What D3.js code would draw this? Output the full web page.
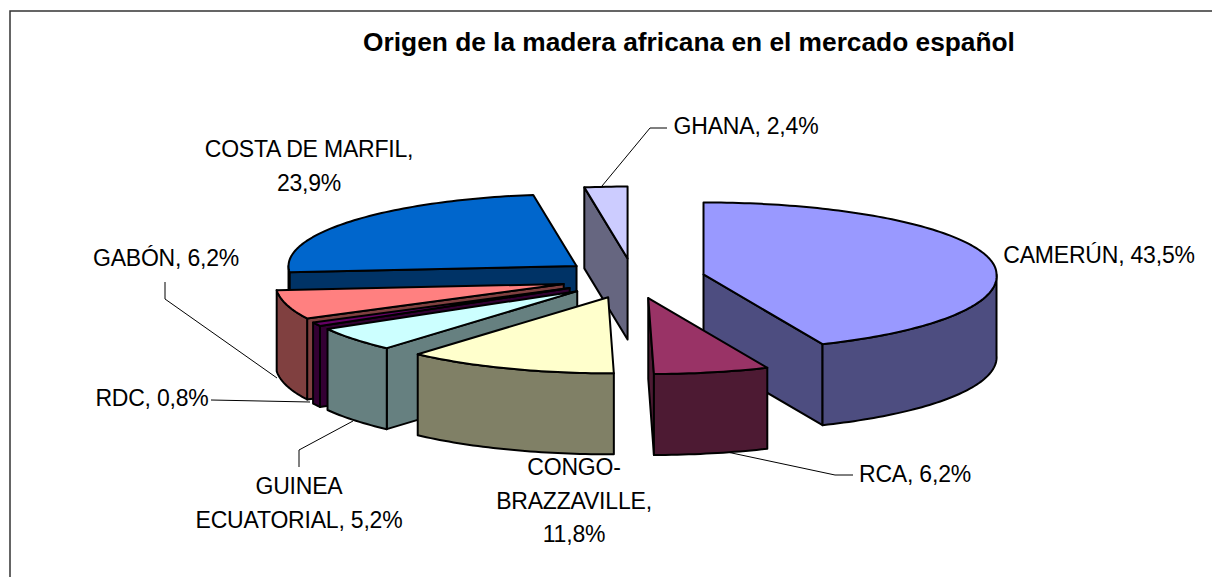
<!DOCTYPE html>
<html>
<head>
<meta charset="utf-8">
<script src="https://cdnjs.cloudflare.com/ajax/libs/d3/7.8.5/d3.min.js"></script>
<style>
  html, body { margin: 0; padding: 0; background: #fff; }
  svg { display: block; }
  text { font-family: "Liberation Sans", Arial, sans-serif; fill: #000; }
</style>
</head>
<body>
<svg id="chart" width="1212" height="577"></svg>
<script>
// --- data ---
const titleText = "Origen de la madera africana en el mercado español";
const categories = ["CAMERÚN", "RCA", "CONGO-BRAZZAVILLE", "GUINEA ECUATORIAL", "RDC", "GABÓN", "COSTA DE MARFIL", "GHANA"];
const values = [43.5, 6.2, 11.8, 5.2, 0.8, 6.2, 23.9, 2.4];
const topColors = ["#9999ff", "#993366", "#ffffcc", "#ccffff", "#660066", "#ff8080", "#0066cc", "#ccccff"];
const sideColors = ["#4d4d80", "#4d1a33", "#808066", "#668080", "#330033", "#804040", "#003366", "#666680"];
const labelLines = [
  ["CAMERÚN, 43,5%"],
  ["RCA, 6,2%"],
  ["CONGO-", "BRAZZAVILLE,", "11,8%"],
  ["GUINEA", "ECUATORIAL, 5,2%"],
  ["RDC, 0,8%"],
  ["GABÓN, 6,2%"],
  ["COSTA DE MARFIL,", "23,9%"],
  ["GHANA, 2,4%"]
];

// label placement, same order as categories: first baseline
const labelX = [1099, 915, 574, 299, 152, 166, 309, 746];
const labelY = [263, 482, 475, 494, 406, 266, 157, 134];
// leader lines (label end, elbow, slice end); camerun, congo and costa have none
const leaders = [
  null,
  [[853, 475], [835, 475], [727, 452]],
  null,
  [[299, 467], [299, 450], [353, 421]],
  [[211, 400], [310, 402]],
  [[165, 282], [165, 299], [277, 378]],
  null,
  [[667, 128], [650, 128], [602, 186]]
];

// --- pie geometry ---
const cx = 633, cy = 278.5;
const rxRight = 293, rxLeft = 288, ryBack = 72, ryFront = 76;
const frontGain = 0.025; // front of the right half is drawn a little wider
const explodeX = 72, explodeY = 20;
const depth = 81;

const pie = d3.pie().sort(null).value(d => d);
const arcs = pie(values).map((a, i) => ({ ...a, i }));

// ellipse point at angle t, clockwise from 12 o'clock
function rim(t) {
  const c = Math.cos(t), s = Math.sin(t);
  const rx = s > 0 ? rxRight * (1 + frontGain * Math.max(0, -c)) : rxLeft;
  return [rx * s, -c * (c > 0 ? ryBack : ryFront)];
}

function apexOf(a) {
  const mid = (a.startAngle + a.endAngle) / 2;
  return [cx + explodeX * Math.sin(mid), cy - explodeY * Math.cos(mid)];
}

const lineGen = d3.line();

function rimPoints(a, t0, t1) {
  const apex = apexOf(a);
  const steps = Math.max(2, Math.ceil(Math.abs(t1 - t0) / 0.02));
  return d3.range(steps + 1).map(k => {
    const p = rim(t0 + (t1 - t0) * k / steps);
    return [apex[0] + p[0], apex[1] + p[1]];
  });
}

function down(pts) {
  return pts.map(p => [p[0], p[1] + depth]);
}

function cutFace(a, t) {
  const apex = apexOf(a);
  const p = rim(t);
  const outer = [apex[0] + p[0], apex[1] + p[1]];
  return lineGen([apex, outer, [outer[0], outer[1] + depth], [apex[0], apex[1] + depth]]) + "Z";
}

function wallFace(a) {
  const t0 = Math.max(a.startAngle, Math.PI / 2);
  const t1 = Math.min(a.endAngle, Math.PI * 1.5);
  if (t1 <= t0) return null;
  const pts = rimPoints(a, t0, t1);
  return lineGen(pts.concat(down(pts).reverse())) + "Z";
}

function topFace(a) {
  const apex = apexOf(a);
  return lineGen([apex].concat(rimPoints(a, a.startAngle, a.endAngle))) + "Z";
}

const svg = d3.select("#chart");

// frame, only top and left are drawn in the picture
svg.append("path")
  .attr("d", "M10,577V11H1212")
  .attr("fill", "none")
  .attr("stroke", "#333")
  .attr("stroke-width", 1.5);

svg.append("text")
  .attr("x", 689)
  .attr("y", 51)
  .attr("text-anchor", "middle")
  .attr("font-size", 26.3)
  .attr("font-weight", "bold")
  .text(titleText);

// leaders go under the slices
svg.append("g")
  .selectAll("path")
  .data(leaders.filter(d => d))
  .enter()
  .append("path")
  .attr("d", d => lineGen(d))
  .attr("fill", "none")
  .attr("stroke", "#000")
  .attr("stroke-width", 1);

// paint back to front
const paintOrder = [7, 6, 5, 4, 3, 2, 0, 1];
const sliceG = svg.append("g")
  .selectAll("g")
  .data(paintOrder.map(i => arcs[i]))
  .enter()
  .append("g");

sliceG.each(function (a) {
  const g = d3.select(this);
  const faces = [];
  // a cut is seen from the front only on the side that turns towards the viewer
  if (a.startAngle > Math.PI) faces.push(cutFace(a, a.startAngle));
  if (a.endAngle < Math.PI) faces.push(cutFace(a, a.endAngle));
  const wall = wallFace(a);
  if (wall) faces.push(wall);
  g.selectAll("path.side")
    .data(faces)
    .enter()
    .append("path")
    .attr("class", "side")
    .attr("d", d => d)
    .attr("fill", sideColors[a.i]);
  g.append("path")
    .attr("class", "top")
    .attr("d", topFace(a))
    .attr("fill", topColors[a.i]);
});

sliceG.selectAll("path")
  .attr("stroke", "#000")
  .attr("stroke-width", 2)
  .attr("stroke-linejoin", "round");

// data labels
svg.append("g")
  .selectAll("text")
  .data(categories)
  .enter()
  .append("text")
  .attr("text-anchor", "middle")
  .attr("font-size", 23)
  .attr("letter-spacing", -0.2)
  .each(function (d, i) {
    d3.select(this)
      .selectAll("tspan")
      .data(labelLines[i])
      .enter()
      .append("tspan")
      .attr("x", labelX[i])
      .attr("y", (l, k) => labelY[i] + k * 33.5)
      .text(l => l);
  });
</script>
</body>
</html>
